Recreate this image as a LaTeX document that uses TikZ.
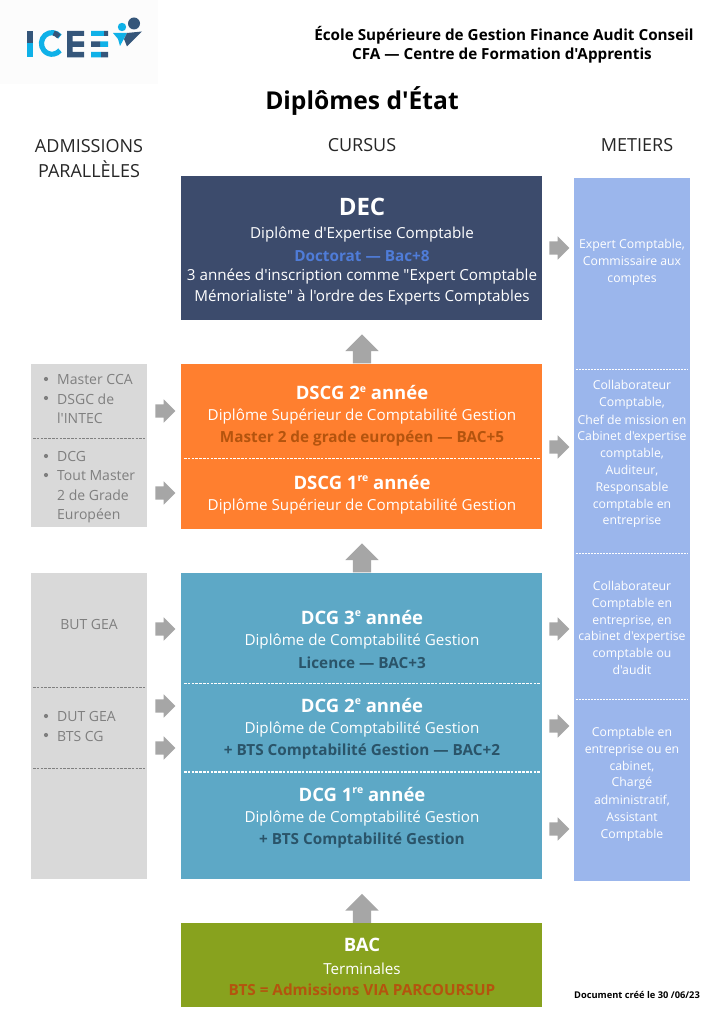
\documentclass[tikz,border=0pt]{standalone}
\usepackage{fontspec}
\newfontfamily\osans{Open Sans}
\AtBeginDocument{\osans}
\usetikzlibrary{shapes.arrows}
\definecolor{decblue}{HTML}{3C4B6C}
\definecolor{orangebox}{HTML}{FF7F2F}
\definecolor{tealbox}{HTML}{5DA8C6}
\definecolor{bacgreen}{HTML}{88A21E}
\definecolor{graybox}{HTML}{D9D9D9}
\definecolor{bluebox}{HTML}{9BB6EC}
\definecolor{arrowgray}{HTML}{A6A6A6}
\definecolor{graytext}{HTML}{7F7F7F}
\definecolor{darkteal}{HTML}{2A5469}
\definecolor{rust}{HTML}{B4540E}
\definecolor{docblue}{HTML}{4F7CD8}
\definecolor{logodark}{HTML}{35567A}
\definecolor{logolight}{HTML}{0FB1E8}
\newcommand{\fs}[1]{\fontsize{#1}{#1}\selectfont}
\newcommand{\rarr}[3]{\node[rightarrow] (#1) at (#2,#3) {\phantom{\rule{1pt}{13pt}}};}
\newcommand{\uarr}[3]{\node[uparrow] (#1) at (#2,#3) {\phantom{\rule{18pt}{1pt}}};}
\newcommand{\sups}[1]{\raisebox{0.42em}{\fontsize{10.5}{10.5}\selectfont #1}}
\tikzset{
 x=1pt,y=-1pt,
 rightarrow/.style={single arrow,fill=arrowgray,draw=none,inner sep=0pt,outer sep=0pt,
   minimum height=20pt,single arrow head extend=5pt,anchor=center},
 uparrow/.style={single arrow,shape border rotate=90,fill=arrowgray,draw=none,inner sep=0pt,outer sep=0pt,
   minimum height=29pt,single arrow head extend=7.5pt,anchor=center},
 ctext/.style={align=center,inner sep=0pt,anchor=center,text=white},
 sep/.style={white,dash pattern=on 2.6pt off 1.2pt,line width=0.8pt},
 gsep/.style={black!50,dash pattern=on 2.6pt off 1.2pt,line width=0.7pt},
 bsep/.style={white,dash pattern=on 2pt off 1pt,line width=0.6pt},
 bl/.style={inner sep=0pt,anchor=base west,text=graytext,font=\fs{14}},
 dot/.style={circle,fill=graytext,inner sep=0pt,minimum size=4.2pt},
 job/.style={align=center,inner sep=0pt,anchor=north,text=white,font=\fs{12.25}},
 head/.style={align=center,inner sep=0pt,anchor=center,font=\fs{18},text=black!85},
}
\begin{document}
\begin{tikzpicture}
\useasboundingbox (0,0) rectangle (724,1024);
\fill[white] (0,0) rectangle (724,1024);
% logo
\fill[black!1] (0,0) rectangle (158,84);
\fill[logolight] (27,31) rectangle (32.5,57.5);
\fill[logodark] (27,31) rectangle (32.5,43);
\draw[logolight,line width=5.2pt] (60,36.5) arc[start angle=40,end angle=320,x radius=10.5,y radius=-10.8];
\draw[logodark,line width=5.2pt] (59,36.5) arc[start angle=40,end angle=75,x radius=10.5,y radius=-10.8];
\fill[logodark] (67,31) rectangle (84,36) (67,41.5) rectangle (84,47) (67,52) rectangle (84,57.5) (67,31) rectangle (72.5,57.5);
\fill[logolight] (91,31) rectangle (104,36) (100,41.5) rectangle (108,47) (91,52) rectangle (101,57.5);
\fill[logodark] (104,31) rectangle (108,36) (91,41.5) rectangle (100,47) (101,52) rectangle (108,57.5);
\fill[logolight] (122,27) circle[radius=4.2];
\fill[logodark] (134,23.5) circle[radius=6];
\fill[logolight] (113,33) -- (127,33) -- (120,46) -- (118,39) -- cycle;
\fill[logodark] (127,33) -- (142,31.5) -- (127,46.5) -- (124,39) -- cycle;
% header
\node[inner sep=0pt,font=\fs{15.25}\bfseries,anchor=center] (h1) at (504,35) {École Supérieure de Gestion Finance Audit Conseil};
\node[inner sep=0pt,font=\fs{15.25}\bfseries,anchor=center] (h2) at (502,56) {CFA — Centre de Formation d'Apprentis};
\node[inner sep=0pt,font=\fs{24.6}\bfseries,anchor=center] (title) at (362,101) {Diplômes d'État};
\node[head] (hA) at (89,158.5) {ADMISSIONS\\[7pt]PARALLÈLES};
\node[head] (hC) at (362,145) {CURSUS};
\node[head] (hM) at (637,145) {METIERS};
% arrows under the panels
\uarr{u1}{362}{353.5}
\uarr{u2}{362}{562.5}
\uarr{u3}{362}{913}
% panels
\fill[graybox] (31,364) rectangle (147,527);
\fill[graybox] (31,573) rectangle (147,879);
\fill[bluebox] (574,178) rectangle (690,881);
\fill[decblue] (181,176) rectangle (542,320);
\fill[orangebox] (181,364) rectangle (542,529);
\fill[tealbox] (181,573) rectangle (542,879);
\fill[bacgreen] (181,923) rectangle (542,1007);
% separators
\draw[sep] (184,458.5) -- (540,458.5);
\draw[sep] (184,683.5) -- (540,683.5);
\draw[sep,line width=1.2pt] (184,772) -- (540,772);
\draw[gsep] (33,438) -- (145,438);
\draw[gsep] (33,687) -- (145,687);
\draw[gsep] (33,768) -- (145,768);
\draw[bsep] (576,369.5) -- (688,369.5);
\draw[bsep] (576,553.5) -- (688,553.5);
\draw[bsep] (576,699.5) -- (688,699.5);
% side arrows
\rarr{r1}{162}{411}
\rarr{r2}{162}{493}
\rarr{r3}{162}{629}
\rarr{r4}{162}{706}
\rarr{r5}{162}{748}
\rarr{r6}{556}{248}
\rarr{r7}{556}{447}
\rarr{r8}{556}{629}
\rarr{r9}{556}{726}
\rarr{r10}{556}{829}
% DEC
\node[ctext,font=\fs{24}\bfseries] (dec) at (362,207) {DEC};
\node[ctext,font=\fs{15.2}] (dec1) at (362,235) {Diplôme d'Expertise Comptable};
\node[ctext,font=\fs{15.3}\bfseries,text=docblue] (dec2) at (362,256) {Doctorat — Bac+8};
\node[ctext,font=\fs{15.2}] (dec3) at (362,277) {3 années d'inscription comme "Expert Comptable};
\node[ctext,font=\fs{15.2}] (dec4) at (362,298) {Mémorialiste" à l'ordre des Experts Comptables};
% DSCG
\node[ctext,font=\fs{18.5}\bfseries] (d2) at (362,393) {DSCG 2\sups{e} année};
\node[ctext,font=\fs{15.2}] (d2a) at (362,417) {Diplôme Supérieur de Comptabilité Gestion};
\node[ctext,font=\fs{15.3}\bfseries,text=rust] (d2b) at (362,438) {Master 2 de grade européen — BAC+5};
\node[ctext,font=\fs{18.5}\bfseries] (d1) at (362,482) {DSCG 1\sups{re} année};
\node[ctext,font=\fs{15.2}] (d1a) at (362,506) {Diplôme Supérieur de Comptabilité Gestion};
% DCG
\node[ctext,font=\fs{18.5}\bfseries] (c3) at (362,617) {DCG 3\sups{e} année};
\node[ctext,font=\fs{15.2}] (c3a) at (362,641) {Diplôme de Comptabilité Gestion};
\node[ctext,font=\fs{15.3}\bfseries,text=darkteal] (c3b) at (362,662.5) {Licence — BAC+3};
\node[ctext,font=\fs{18.5}\bfseries] (c2) at (362,705) {DCG 2\sups{e} année};
\node[ctext,font=\fs{15.2}] (c2a) at (362,729.5) {Diplôme de Comptabilité Gestion};
\node[ctext,font=\fs{15.3}\bfseries,text=darkteal] (c2b) at (362,751) {+ BTS Comptabilité Gestion — BAC+2};
\node[ctext,font=\fs{18.5}\bfseries] (c1) at (362,794) {DCG 1\sups{re} année};
\node[ctext,font=\fs{15.2}] (c1a) at (362,818.5) {Diplôme de Comptabilité Gestion};
\node[ctext,font=\fs{15.3}\bfseries,text=darkteal] (c1b) at (362,840) {+ BTS Comptabilité Gestion};
% BAC
\node[ctext,font=\fs{18.5}\bfseries] (b) at (362,945) {BAC};
\node[ctext,font=\fs{15.2}] (b1) at (362,968.5) {Terminales};
\node[ctext,font=\fs{15.3}\bfseries,text=rust] (b2) at (362,990) {BTS = Admissions VIA PARCOURSUP};
\node[inner sep=0pt,anchor=center,font=\fs{9.3}\bfseries] (doc) at (637,995) {Document créé le 30 /06/23};
% left lists
\node[dot] (p1) at (46,379) {}; \node[bl] (l1) at (57,384.5) {Master CCA};
\node[dot] (p2) at (46,398) {}; \node[bl] (l2) at (57,404) {DSGC de};
\node[bl] (l2b) at (57,423) {l'INTEC};
\node[dot] (p3) at (46,456) {}; \node[bl] (l3) at (57,461) {DCG};
\node[dot] (p4) at (46,475) {}; \node[bl] (l4) at (57,480.5) {Tout Master};
\node[bl] (l4b) at (57,500) {2 de Grade};
\node[bl] (l4c) at (57,519) {Européen};
\node[inner sep=0pt,anchor=center,text=graytext,font=\fs{14}] (but) at (89,624) {BUT GEA};
\node[dot] (p5) at (46,716) {}; \node[bl] (l5) at (57,721.5) {DUT GEA};
\node[dot] (p6) at (46,735) {}; \node[bl] (l6) at (57,741) {BTS CG};
% jobs
\node[job] (j1) at (632,239) {Expert Comptable,\\[4.55pt]Commissaire aux\\[4.55pt]comptes};
\node[job] (j2) at (632,380) {Collaborateur\\[4.55pt]Comptable,\\[4.55pt]Chef de mission en\\[4.55pt]Cabinet d'expertise\\[4.55pt]comptable,\\[4.55pt]Auditeur,\\[4.55pt]Responsable\\[4.55pt]comptable en\\[4.55pt]entreprise};
\node[job] (j3) at (632,581) {Collaborateur\\[4.55pt]Comptable en\\[4.55pt]entreprise, en\\[4.55pt]cabinet d'expertise\\[4.55pt]comptable ou\\[4.55pt]d'audit};
\node[job] (j4) at (632,727) {Comptable en\\[4.55pt]entreprise ou en\\[4.55pt]cabinet,\\[4.55pt]Chargé\\[4.55pt]administratif,\\[4.55pt]Assistant\\[4.55pt]Comptable};
\end{tikzpicture}
\end{document}
